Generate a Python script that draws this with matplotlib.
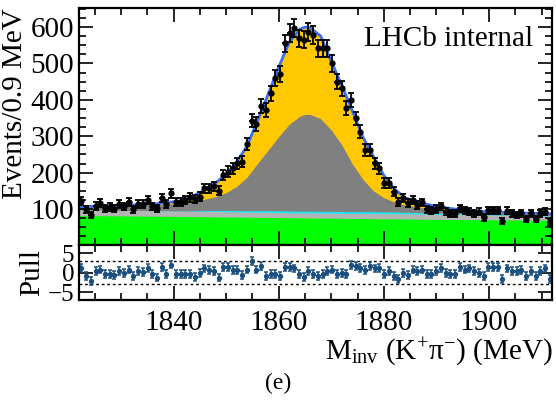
import numpy as np
import matplotlib
matplotlib.use("Agg")
import matplotlib.pyplot as plt
from matplotlib.ticker import MultipleLocator

plt.rcParams['font.family'] = ['Liberation Serif', 'DejaVu Serif']
plt.rcParams['mathtext.fontset'] = 'custom'
plt.rcParams['mathtext.rm'] = 'Liberation Serif'
plt.rcParams['mathtext.it'] = 'Liberation Serif:italic'

# --- binning (0.9 MeV bins) ---
M_LO, M_HI, BIN_W = 1822.0, 1912.0, 0.9
n_bins = 100

# --- data: events per bin ---
counts = [122, 99, 84, 108, 116, 102, 105, 101, 114, 107,
          119, 99, 114, 114, 125, 107, 102, 131, 114, 143,
          119, 120, 125, 132, 127, 134, 157, 157, 162, 150,
          194, 203, 212, 226, 230, 279, 343, 334, 383, 372,
          418, 460, 470, 555, 583, 597, 569, 565, 587, 578,
          542, 542, 542, 500, 450, 432, 377, 400, 349, 313,
          262, 262, 226, 212, 171, 171, 148, 120, 130, 116,
          125, 111, 118, 99, 97, 100, 107, 93, 88, 88,
          102, 96, 93, 88, 93, 77, 97, 97, 97, 68,
          95, 88, 84, 88, 72, 88, 72, 88, 93, 65]

# --- pulls per bin ---
pulls = [1.25, -0.8, -2.2, 0.4, 0.8, -0.25, -0.25, -0.6, 0.4, 0.0,
         0.8, -0.8, 0.4, 0.25, 1.25, -0.4, -1.25, 1.4, -0.25, 2.1,
         -0.25, -0.4, -0.4, -0.25, -1.1, 0.0, 1.1, 0.6, 0.4, -1.25,
         1.4, 1.4, 0.6, 0.6, -0.6, 0.8, 3.1, 0.8, 1.7, -0.8,
         -0.4, -0.25, -0.8, 1.4, 1.4, 1.1, -0.4, -1.1, 0.4, -0.4,
         -0.8, -0.25, 0.4, 0.8, -0.25, 0.0, -0.4, 1.9, 1.7, 1.25,
         0.6, 1.7, 1.1, 1.25, -0.25, 0.4, -0.8, -1.7, 0.0, -0.6,
         0.8, 0.4, 0.8, -0.25, -0.25, 0.4, 1.25, 0.0, -0.25, -0.4,
         1.4, 0.8, 1.1, 0.4, 0.0, -0.8, 1.4, 1.4, 1.4, -1.7,
         1.1, 0.4, 0.4, 0.6, -0.8, 0.4, -0.8, 0.4, 1.1, -1.7]

# --- fit components (cumulative) ---
x_fit = [1822, 1826, 1830, 1834, 1838, 1842, 1845, 1848, 1850, 1852,
         1854, 1856, 1858, 1860, 1862, 1864, 1865, 1866, 1868, 1870,
         1872, 1874, 1876, 1878, 1880, 1882, 1884, 1887, 1890, 1894,
         1898, 1902, 1906, 1912]
fit_total = [107, 108, 110, 112, 116, 124, 145, 172, 195, 228,
             274, 344, 416, 490, 558, 594, 600, 598, 575, 505,
             440, 370, 298, 245, 192, 155, 131, 117, 107, 99,
             94, 91, 89, 87]
fit_peakbkg = [106, 107, 108, 110, 112, 117, 124, 134, 145, 162,
               188, 226, 262, 299, 333, 355, 360, 360, 348, 317,
               276, 224, 182, 150, 131, 119, 111, 104, 98, 94,
               91, 89, 87, 85]
fit_cyan = [97, 96.5, 96, 95.5, 95, 94.5, 95.5, 96, 96, 96,
            95.5, 95.5, 95.5, 95, 94.5, 94, 94, 94, 93.5, 93.5,
            93, 93, 93, 92.5, 92, 92, 91, 90, 89, 87.5,
            85.5, 84, 82.5, 81]
fit_lgrey = [97, 96.5, 96, 95.5, 95, 94, 93.5, 93, 92.5, 92,
             91.5, 91, 90.5, 90, 89.5, 89, 89, 89, 88.5, 88.5,
             88, 88, 88, 87.5, 87, 87, 86.5, 86, 85, 84.5,
             83.5, 83, 82, 81]
fit_comb = [82, 81.5, 81, 80.5, 80, 79.5, 79, 78.5, 78, 78,
            77.5, 77, 77, 76.5, 76, 76, 75.5, 75.5, 75, 75,
            74.5, 74, 74, 73.5, 73, 73, 72.5, 72, 71.5, 71,
            70.5, 70, 69.5, 69]

centers = M_LO + BIN_W * (np.arange(n_bins) + 0.5)
counts = np.array(counts, dtype=float)
errs = np.sqrt(counts)

FS = 21
fig = plt.figure(figsize=(5.56, 4.07), dpi=100)
ax = fig.add_axes([0.142, 0.397, 0.851, 0.583])
axp = fig.add_axes([0.142, 0.263, 0.851, 0.134])

# stacked fills, largest first
ax.fill_between(x_fit, 0, fit_total, color='#ffc800', lw=0)
ax.fill_between(x_fit, 0, fit_peakbkg, color='#808080', lw=0)
ax.fill_between(x_fit, 0, fit_cyan, color='#22e5ee', lw=0)
ax.fill_between(x_fit, 0, fit_lgrey, color='#b4b4b4', lw=0)
ax.fill_between(x_fit, 0, fit_comb, color='#00ff00', lw=0)
ax.plot(x_fit, fit_total, color='#3a6cf4', lw=2)

ax.errorbar(centers, counts, xerr=BIN_W / 2, fmt='none', ecolor='k', elinewidth=1.3)
ax.errorbar(centers, counts, yerr=errs, fmt='o', ms=3.5, color='k',
            ecolor='k', elinewidth=1.3, capsize=2, capthick=1.3)

ax.set_xlim(M_LO, M_HI)
ax.set_ylim(0, 652)
ax.set_yticks([100, 200, 300, 400, 500, 600])
ax.yaxis.set_minor_locator(MultipleLocator(25))
ax.xaxis.set_major_locator(MultipleLocator(20))
ax.xaxis.set_minor_locator(MultipleLocator(5))
ax.tick_params(which='both', direction='in', top=True, right=True,
               labelbottom=False, labelsize=FS, width=1.2)
ax.tick_params(which='major', length=10)
ax.tick_params(which='minor', length=5)
ax.set_ylabel('Events/0.9 MeV', fontsize=FS, loc='top', labelpad=2)
ax.text(0.96, 0.87, 'LHCb internal', transform=ax.transAxes,
        ha='right', va='center', fontsize=FS)

# pull panel
for lvl in (3, -3):
    axp.axhline(lvl, color='k', ls=(0, (2, 2)), lw=1)
axp.errorbar(centers, pulls, yerr=1, fmt='o', ms=2.8, color='#1b4f7e',
             ecolor='#1b4f7e', elinewidth=1.1, capsize=1.5, capthick=1.1)
axp.set_xlim(M_LO, M_HI)
axp.set_ylim(-7, 7)
axp.set_yticks([-5, 0, 5])
axp.set_yticklabels(['\u22125', '0', '5'])
axp.xaxis.set_major_locator(MultipleLocator(20))
axp.xaxis.set_minor_locator(MultipleLocator(5))
axp.tick_params(which='both', direction='in', top=True, right=True,
                labelsize=FS, width=1.2)
axp.tick_params(axis='y', labelsize=18)
axp.tick_params(which='major', length=10)
axp.tick_params(axis='x', which='major', pad=7)
axp.tick_params(which='minor', length=5)
axp.set_ylabel('Pull', fontsize=FS, labelpad=2)
axp.set_xlabel('M$_{\\rm inv}$ (K$^{+}$\u03c0$^{-}$) (MeV)', fontsize=FS,
               loc='right', labelpad=0)

for a in (ax, axp):
    for s in a.spines.values():
        s.set_linewidth(1.6)

fig.text(0.5, 0.058, '(e)', ha='center', va='center', fontsize=17)

fig.savefig('out.png', dpi=100)
